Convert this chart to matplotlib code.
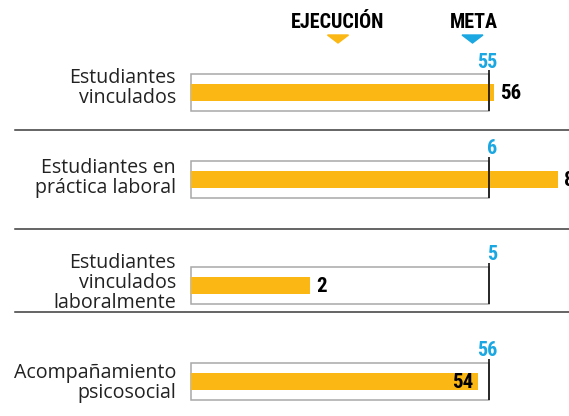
import matplotlib
matplotlib.use("Agg")
import matplotlib.pyplot as plt
from matplotlib import font_manager
from matplotlib.transforms import offset_copy
from matplotlib.patches import Polygon
import numpy as np

# ---------------- data ----------------
categories = [
    "Estudiantes\nvinculados",
    "Estudiantes en\npráctica laboral",
    "Estudiantes\nvinculados\nlaboralmente",
    "Acompañamiento\npsicosocial",
]
ejecucion = [56, 8, 2, 54]
meta = [55, 6, 5, 56]
header_exec = "EJECUCIÓN"
header_meta = "META"

# ---------------- style / layout ----------------
ORANGE = "#FBB713"
BLUE = "#1BA7E1"
BOX_EDGE = "#A8A8A8"
SEP = "#3a3a3a"
TEXT = "#222222"

W, H = 569, 416
X0, SCALE = 191, 298          # pixel of ratio 0 and pixel length of ratio 1
row_centers = [92.5, 179, 285, 381]
label_centers = [88, 178, 283, 383]
sep_lines = [130, 229, 312]
box_h, bar_h = 37, 17
overflow_cap = 1.23
label_inside = [False, False, False, True]

names = {f.name for f in font_manager.fontManager.ttflist}
if "Roboto Condensed" in names:
    COND = dict(family="Roboto Condensed", weight="bold")
elif "Liberation Sans Narrow" in names:
    COND = dict(family="Liberation Sans Narrow", weight="bold")
else:
    COND = dict(family="DejaVu Sans", weight="bold", stretch="condensed")
REG = dict(family="Open Sans" if "Open Sans" in names else "DejaVu Sans")

fig = plt.figure(figsize=(W / 100, H / 100), dpi=100)
ax = fig.add_axes([0, 0, 1, 1])
ax.set_xlim(-X0 / SCALE, (W - X0) / SCALE)
ax.set_ylim(H, 0)
ax.axis("off")

def px(x):
    return (x - X0) / SCALE

ratio = np.array(ejecucion) / np.array(meta)
shown = np.minimum(ratio, overflow_cap)

# boxes (meta = full box)
ax.barh(row_centers, [1] * len(meta), height=box_h, left=0, facecolor="white",
        edgecolor=BOX_EDGE, linewidth=1.1, zorder=1)
# execution bars
ax.barh(row_centers, shown, height=bar_h, left=0, color=ORANGE, zorder=2)
# meta lines
for yc in row_centers:
    ax.plot([1, 1], [yc - box_h / 2 - 4, yc + box_h / 2], color="black",
            lw=1.1, zorder=3, solid_capstyle="butt")

for i, (cat, e, m) in enumerate(zip(categories, ejecucion, meta)):
    yc = row_centers[i]
    # category label
    ax.text(px(176), label_centers[i], cat, ha="right", va="center",
            fontsize=14.1, color=TEXT, linespacing=1.02, **REG)
    # meta value label
    tr = offset_copy(ax.transData, fig=fig, x=8, y=0, units="dots")
    ax.text(1, yc - box_h / 2 - 12, str(m), ha="right", va="center",
            fontsize=14.5, color=BLUE, transform=tr, **COND)
    # execution value label
    if label_inside[i]:
        tr2 = offset_copy(ax.transData, fig=fig, x=-5, y=0, units="dots")
        ax.text(shown[i], yc + 1, str(e), ha="right", va="center", fontsize=15,
                color="black", transform=tr2, zorder=4, **COND)
    else:
        tr2 = offset_copy(ax.transData, fig=fig, x=6, y=0, units="dots")
        ax.text(shown[i], yc + 1, str(e), ha="left", va="center", fontsize=15,
                color="black", transform=tr2, zorder=4, **COND)

# separators
for y in sep_lines:
    ax.plot([px(15), px(W)], [y, y], color=SEP, lw=1.1)

# header
ax.text(px(338), 22, header_exec, ha="center", va="center", fontsize=14.5,
        color="black", **COND)
ax.text(px(474), 22, header_meta, ha="center", va="center", fontsize=14.5,
        color="black", **COND)
for xc, col in [(338, ORANGE), (472.5, BLUE)]:
    tri = Polygon([[px(xc - 10.5), 35], [px(xc + 10.5), 35], [px(xc), 43]],
                  closed=True, color=col)
    ax.add_patch(tri)

fig.savefig("out.png", dpi=100)
